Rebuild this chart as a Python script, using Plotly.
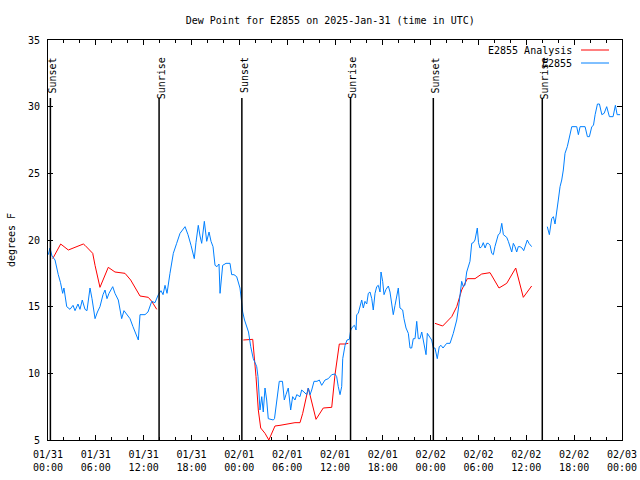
import pandas as pd
import plotly.graph_objects as go

START = pd.Timestamp("2025-01-31 00:00")

# E2855 observations: hours since 2025-01-31 00:00 UTC, dew point (F)
blue_hours = [0.04, 0.25, 0.5, 0.88, 1.29, 1.57, 1.84, 2.0, 2.35, 2.76, 3.14, 3.39, 3.76, 4.01, 4.30, 4.64,
              4.89, 5.27, 5.52, 5.9, 6.2, 6.52, 6.9, 7.15, 7.4, 7.65, 8.12, 8.4, 8.82, 9.24, 9.53, 9.91,
              10.29, 10.66, 10.98, 11.33, 11.54, 12.17, 12.54, 13.01, 13.42, 13.84, 14.17, 14.43, 14.68,
              14.93, 15.3, 15.72, 16.14, 16.56, 17.19, 17.56, 17.94, 18.35, 18.56, 18.85, 19.07, 19.28,
              19.61, 19.91, 20.2, 20.45, 20.7, 20.95, 21.2, 21.45, 21.58, 21.91, 22.33, 22.83, 23.04,
              23.33, 23.67, 23.9, 24.08, 24.3, 24.42, 24.65, 24.92, 25.15, 25.43, 25.75, 25.97, 26.18,
              26.34, 26.59, 26.81, 27.0, 27.22, 27.43, 27.63, 28.26, 28.41, 28.69, 29.01, 29.41, 29.64,
              29.85, 30.14, 30.44, 30.69, 30.98, 31.2, 31.61, 31.82, 32.11, 32.45, 32.65, 32.87, 33.08,
              33.37, 33.74, 34.03, 34.33, 34.75, 35.16, 35.59, 36.0, 36.21, 36.41, 36.63, 36.84, 36.97,
              37.26, 37.51, 37.8, 37.97, 38.22, 38.45, 38.64, 38.72, 38.92, 39.14, 39.35, 39.55, 39.76,
              39.98, 40.18, 40.39, 40.61, 40.8, 41.02, 41.23, 41.43, 41.65, 41.77, 41.98, 42.15, 42.4,
              42.69, 42.9, 43.11, 43.31, 43.53, 43.74, 43.94, 44.15, 44.49, 44.65, 44.91, 45.2, 45.41,
              45.62, 45.82, 46.04, 46.25, 46.45, 46.66, 46.88, 47.08, 47.3, 47.42, 47.58, 47.83, 48.13,
              48.33, 48.54, 48.83, 49.08, 49.3, 49.55, 50.01, 50.43, 50.84, 51.27, 51.49, 51.68, 51.89,
              52.09, 52.3, 52.52, 52.75, 52.93, 53.15, 53.35, 53.56, 53.75, 53.85, 54.0, 54.18, 54.4,
              54.6, 54.83, 55.04, 55.23, 55.45, 55.66, 55.86, 56.06, 56.28, 56.48, 56.69, 56.92, 57.12,
              57.33, 57.54, 57.74, 57.95, 58.17, 58.37, 58.58, 58.79, 58.99, 59.21, 59.46, 59.67, 59.87,
              60.12, 60.33, 60.67, 61.6, 62.63, 62.89, 63.18, 63.39, 63.6, 63.81, 64.01, 64.23, 64.44,
              64.64, 64.85, 65.14, 65.4, 65.7, 66.32, 66.53, 66.74, 67.37, 67.66, 67.91, 68.21, 68.42,
              68.63, 68.92, 69.17, 69.47, 69.76, 70.08, 70.42, 70.88, 71.17, 71.39, 71.76]
blue_values = [18.9, 19.4, 18.8, 18.5, 17.4, 16.8, 16.0, 16.4, 15.0, 14.8, 15.1, 14.7, 15.2, 14.8, 15.5, 14.8,
               14.7, 16.4, 15.6, 14.1, 14.6, 15.0, 15.9, 16.25, 15.6, 16.0, 16.5, 16.0, 15.5, 14.1, 14.7, 14.4,
               14.1, 13.5, 13.0, 12.5, 14.4, 14.4, 14.6, 15.4, 15.3, 15.9, 16.2, 15.9, 16.6,
               16.0, 17.5, 19.0, 19.75, 20.5, 21.0, 20.4, 19.6, 18.6, 19.8, 21.1, 20.3, 19.75,
               21.4, 19.9, 20.6, 19.9, 19.5, 18.1, 18.0, 18.2, 16.0, 18.1, 18.25, 18.25, 17.4,
               17.4, 17.25, 16.8, 16.4, 15.3, 14.6, 14.0, 13.5, 13.1, 12.0, 11.1, 10.8, 10.5,
               9.75, 7.25, 8.25, 7.1, 8.9, 8.0, 6.6, 6.5, 6.6, 8.0, 9.4, 9.4, 8.0,
               8.4, 8.9, 7.25, 8.25, 8.0, 8.4, 8.25, 8.75, 8.6, 8.4, 8.9, 8.4, 8.75,
               9.4, 9.4, 9.5, 9.1, 9.5, 9.6, 9.9, 9.95, 9.75, 9.0, 8.4, 9.0, 11.1,
               12.1, 12.5, 12.55, 13.25, 13.5, 13.6, 13.25, 14.4, 14.5, 15.1, 15.5, 14.9, 15.4,
               15.2, 16.0, 16.1, 15.6, 14.75, 16.0, 16.5, 16.6, 16.1, 17.6, 16.9, 15.9, 16.3,
               16.55, 16.1, 15.25, 14.4, 15.1, 15.9, 16.4, 14.9, 14.75, 14.1, 13.4, 13.0, 11.9,
               11.9, 12.6, 12.6, 13.9, 12.6, 12.6, 13.1, 12.4, 11.9, 11.4, 13.0, 12.75, 12.5,
               11.9, 11.9, 11.1, 12.0, 12.1, 11.9, 12.25, 12.25, 13.0, 14.0, 14.9, 15.75, 16.9,
               16.5, 16.6, 17.6, 18.0, 18.4, 19.75, 19.8, 20.0, 20.5, 20.9, 19.8, 19.4, 19.5,
               19.8, 19.4, 19.75, 19.75, 19.6, 19.0, 18.9, 19.5, 20.1, 20.4, 20.5, 21.25, 20.4,
               20.3, 20.2, 19.9, 19.4, 19.1, 19.75, 19.5, 19.1, 19.5, 19.5, 19.4, 19.2, 19.5,
               20.0, 19.75, 19.5, None, 21.0, 20.4, 21.6, 21.75, 21.2, 22.0, 23.0, 24.0, 24.5,
               25.25, 26.5, 27.0, 27.75, 28.5, 28.5, 27.9, 28.5, 28.5, 27.75, 27.75, 28.5, 28.6,
               29.4, 30.2, 30.2, 29.4, 29.5, 30.0, 29.25, 29.25, 30.1, 29.4, 29.4]

# E2855 Analysis: hours since 2025-01-31 00:00 UTC, dew point (F)
red_hours = [0.59, 1.59, 2.55, 3.39, 4.43, 4.64, 5.61, 5.9, 6.52, 7.56, 8.4, 9.66, 10.37, 11.54, 12.58,
             13.01, 13.64, 19.0,
             24.5, 25.68, 26.09, 26.38, 26.68, 27.22, 27.7, 28.47, 29.1, 30.14, 30.98, 31.61, 31.95,
             32.65, 33.62, 34.53, 35.59, 36.0, 36.54, 37.26, 37.67, 43.0,
             48.54, 49.51, 50.64, 51.27, 51.89, 52.6, 53.56, 54.4, 55.45, 56.57, 57.54, 58.67, 59.62, 60.67]
red_values = [18.6, 19.7, 19.25, 19.45, 19.7, 19.6, 19.0, 18.1, 16.45, 17.95, 17.6, 17.5, 17.0, 15.8, 15.7,
              15.4, 14.8, None,
              12.5, 12.55, 9.75, 7.25, 5.9, 5.5, 5.0, 6.05, 6.1, 6.2, 6.3, 6.3, 7.0,
              8.9, 6.55, 7.4, 7.45, 9.9, 12.2, 12.2, 12.25, None,
              13.75, 13.55, 14.25, 15.0, 16.25, 17.1, 17.1, 17.45, 17.55, 16.4, 16.75, 17.9, 15.7, 16.55]

event_times = ["2025-01-31 00:18", "2025-01-31 13:56", "2025-02-01 00:19",
               "2025-02-01 13:57", "2025-02-02 00:20", "2025-02-02 14:00"]
event_labels = ["Sunset", "Sunrise", "Sunset", "Sunrise", "Sunset", "Sunrise"]

series_names = ["E2855 Analysis", "E2855"]
series_colors = ["#ff0000", "#0080ff"]

FONT = "DejaVu Sans Mono"

blue_x = START + pd.to_timedelta(blue_hours, unit="h")
red_x = START + pd.to_timedelta(red_hours, unit="h")

fig = go.Figure()
fig.add_trace(go.Scatter(x=red_x, y=red_values, mode="lines", name=series_names[0],
                         line=dict(color=series_colors[0], width=1), connectgaps=False,
                         showlegend=False))
fig.add_trace(go.Scatter(x=blue_x, y=blue_values, mode="lines", name=series_names[1],
                         line=dict(color=series_colors[1], width=1), connectgaps=False,
                         showlegend=False))

for t, lab in zip(event_times, event_labels):
    fig.add_shape(type="line", xref="x", yref="paper", x0=t, x1=t, y0=0, y1=0.855,
                  line=dict(color="black", width=1.5))
    fig.add_annotation(x=t, xref="x", y=0.962, yref="paper", text=lab, textangle=-90,
                       showarrow=False, xanchor="center", yanchor="top", xshift=2,
                       font=dict(family=FONT, size=10, color="black"))

# legend (gnuplot-style: text right-aligned, sample line on the right)
leg_y = [0.975, 0.9425]
for name, color, yy in zip(series_names, series_colors, leg_y):
    fig.add_annotation(x=0.9164, xref="paper", y=yy, yref="paper", text=name, showarrow=False,
                       xanchor="right", yanchor="middle",
                       font=dict(family=FONT, size=10, color="black"))
    fig.add_shape(type="line", xref="paper", yref="paper", x0=0.9286, x1=0.9774, y0=yy, y1=yy,
                  line=dict(color=color, width=1))

fig.update_layout(
    width=640, height=480,
    margin=dict(l=48, r=18, t=40, b=40, autoexpand=False),
    paper_bgcolor="white", plot_bgcolor="white",
    title=dict(text="Dew Point for E2855 on 2025-Jan-31 (time in UTC)", x=0.516, xanchor="center",
               xref="container", yref="container", y=0.958, yanchor="middle", automargin=False,
               font=dict(family=FONT, size=10, color="black")),
    font=dict(family=FONT, size=10, color="black"),
)
fig.update_xaxes(
    type="date", range=["2025-01-31 00:00", "2025-02-03 00:00"], automargin=False,
    tick0="2025-01-31 00:00", dtick=6 * 3600 * 1000, tickformat="%m/%d<br>%H:%M",
    ticks="inside", ticklen=5, tickcolor="black", mirror="allticks", ticklabelstandoff=5,
    showline=True, linecolor="black", linewidth=1, showgrid=False, zeroline=False,
    minor=dict(dtick=2 * 3600 * 1000, ticks="inside", ticklen=3, tickcolor="black", showgrid=False),
    tickfont=dict(family=FONT, size=10, color="black"),
)
fig.update_yaxes(
    range=[5, 35], dtick=5, tick0=5, automargin=False,
    ticks="inside", ticklen=5, tickcolor="black", mirror="allticks", ticklabelstandoff=5,
    showline=True, linecolor="black", linewidth=1, showgrid=False, zeroline=False,
    title=dict(text="degrees F", font=dict(family=FONT, size=10, color="black"), standoff=10),
    tickfont=dict(family=FONT, size=10, color="black"),
)

fig.write_html("out.html", config={"displayModeBar": False},
               post_script="document.body.style.margin='0px';")
